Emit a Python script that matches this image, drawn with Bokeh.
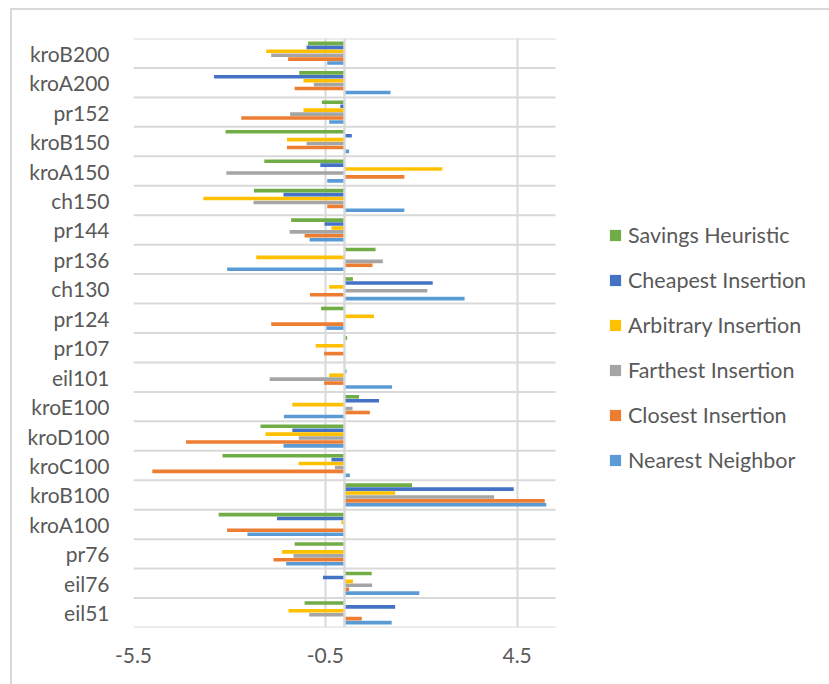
from bokeh.plotting import figure
from bokeh.models import (FixedTicker, Legend, LegendItem, Span, InlineStyleSheet,
                          ColumnDataSource)
from bokeh.embed import file_html
from bokeh.resources import INLINE

categories = ["eil51", "eil76", "pr76", "kroA100", "kroB100", "kroC100", "kroD100",
              "kroE100", "eil101", "pr107", "pr124", "ch130", "pr136", "pr144",
              "ch150", "kroA150", "kroB150", "pr152", "kroA200", "kroB200"]

nearest_neighbor = [1.23, 1.95, -1.52, -2.53, 5.26, 0.14, -1.59, -1.58, 1.24, 0.0,
                    -0.47, 3.13, -3.06, -0.91, 1.56, -0.45, 0.12, -0.40, 1.20, -0.45]
closest_insertion = [0.45, 0.12, -1.85, -3.06, 5.22, -5.01, -4.13, 0.66, -0.53, -0.53,
                     -1.91, -0.90, 0.73, -1.04, -0.45, 1.56, -1.50, -2.69, -1.30, -1.47]
farthest_insertion = [-0.92, 0.72, -1.33, 0.0, 3.90, -0.25, -1.19, 0.21, -1.95, 0.0,
                      0.0, 2.16, 1.00, -1.43, -2.37, -3.08, -0.99, -1.42, -0.80, -1.91]
arbitrary_insertion = [-1.46, 0.22, -1.63, -0.08, 1.32, -1.20, -2.06, -1.36, -0.40, -0.75,
                       0.77, -0.40, -2.30, -0.34, -3.68, 2.55, -1.50, -1.07, -1.07, -2.04]
cheapest_insertion = [1.32, -0.56, 0.0, -1.76, 4.41, -0.34, -1.36, 0.90, 0.05, 0.0,
                      0.0, 2.30, 0.0, -0.52, -1.59, -0.63, 0.19, -0.11, -3.40, -0.99]
savings_heuristic = [-1.04, 0.71, -1.30, -3.28, 1.76, -3.18, -2.19, 0.38, 0.0, 0.07,
                     -0.61, 0.22, 0.81, -1.39, -2.36, -2.09, -3.10, -0.59, -1.18, -0.95]

series_names = ["Nearest Neighbor", "Closest Insertion", "Farthest Insertion",
                "Arbitrary Insertion", "Cheapest Insertion", "Savings Heuristic"]
series_values = [nearest_neighbor, closest_insertion, farthest_insertion,
                 arbitrary_insertion, cheapest_insertion, savings_heuristic]
colors = ["#5B9BD5", "#ED7D31", "#A5A5A5", "#FFC000", "#4472C4", "#70AD47"]

x_ticks = [-5.5, -0.5, 4.5]
x_min, x_max = -5.5, 5.5

FONT = "Lato"
TXT = "#595959"
GRID = "#d9d9d9"

W, H = 829, 684
LEFT, RIGHT_PLOT, TOP, BOTTOM = 133, 555, 38, 57
px_per_unit = (RIGHT_PLOT - LEFT) / (x_max - x_min)
x_end = x_min + (W - LEFT) / px_per_unit   # frame extends under the legend

n = len(categories)
p = figure(width=W, height=H, output_backend="svg", toolbar_location=None,
           x_range=(x_min, x_end), y_range=(0, n),
           min_border_left=LEFT, min_border_right=0, min_border_top=TOP,
           min_border_bottom=BOTTOM)
p.outline_line_color = None

# category separators (horizontal gridlines limited to the chart's value range)
p.segment(x0=x_min, x1=x_max, y0=list(range(n + 1)), y1=list(range(n + 1)),
          line_color=GRID, line_width=2)

bar_h = 0.8 / 6
renderers = []
for k, (name, vals, col) in enumerate(zip(series_names, series_values, colors)):
    ys = [i + 0.1 + bar_h / 2 + k * bar_h for i in range(n)]
    src = ColumnDataSource(dict(y=ys, right=vals))
    r = p.hbar(y="y", left=0, right="right", height=bar_h * 0.92, source=src,
               fill_color=col, line_color=None)
    renderers.append((name, r))

# axes
p.yaxis.ticker = FixedTicker(ticks=[i + 0.5 for i in range(n)])
p.yaxis.major_label_overrides = {i + 0.5: c for i, c in enumerate(categories)}
p.xaxis.ticker = FixedTicker(ticks=x_ticks)
p.xaxis.major_label_overrides = {t: f"{t:g}" for t in x_ticks}
for ax in (p.xaxis, p.yaxis):
    ax.axis_line_color = None
    ax.major_tick_line_color = None
    ax.minor_tick_line_color = None
    ax.major_tick_out = 0
    ax.major_tick_in = 0
    ax.minor_tick_out = 0
    ax.major_label_text_font = FONT
    ax.major_label_text_font_size = "21px"
    ax.major_label_text_color = TXT
p.yaxis.major_label_standoff = 24
p.xaxis.major_label_standoff = 20

p.xgrid.ticker = FixedTicker(ticks=x_ticks)
p.xgrid.grid_line_color = GRID
p.xgrid.grid_line_width = 2
p.ygrid.grid_line_color = None

p.add_layout(Span(location=0, dimension="height", line_color=GRID, line_width=2.5))

items = [LegendItem(label=name, renderers=[r]) for name, r in reversed(renderers)]
legend = Legend(items=items, location=(612 - LEFT - 4, 154), orientation="vertical",
                label_text_font=FONT, label_text_font_size="21.5px",
                label_text_color=TXT, glyph_width=14, glyph_height=14,
                label_height=24, spacing=19, label_standoff=6, padding=10,
                margin=0, border_line_color=None, background_fill_alpha=0)
p.add_layout(legend, "center")

p.stylesheets = [InlineStyleSheet(css=""":host::after {content: ''; position: absolute;
 left: 10px; top: 8px; width: 900px; height: 800px; border: 2px solid #d9d9d9;
 pointer-events: none; box-sizing: border-box;}""")]

open("out.html", "w").write(file_html(p, INLINE))
